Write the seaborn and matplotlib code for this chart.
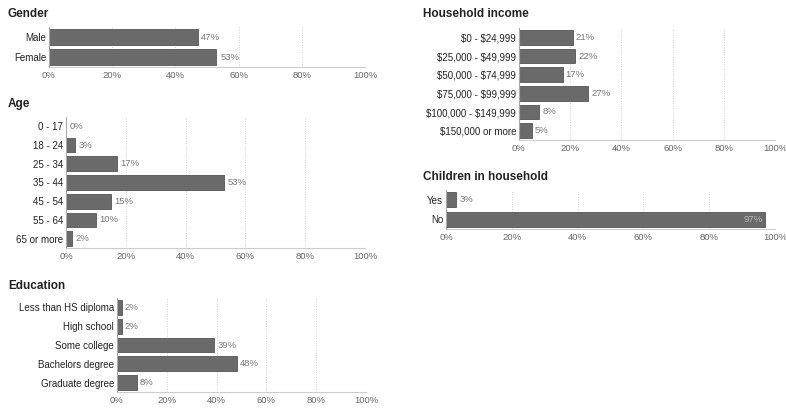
import pandas as pd
import matplotlib
matplotlib.use("Agg")
import matplotlib.pyplot as plt
import seaborn as sns

# Data (percent of respondents)
gender_labels = ["Male", "Female"]
gender_values = [47, 53]

age_labels = ["0 - 17", "18 - 24", "25 - 34", "35 - 44", "45 - 54", "55 - 64", "65 or more"]
age_values = [0, 3, 17, 53, 15, 10, 2]

edu_labels = ["Less than HS diploma", "High school", "Some college", "Bachelors degree", "Graduate degree"]
edu_values = [2, 2, 39, 48, 8]

income_labels = ["$0 - $24,999", "$25,000 - $49,999", "$50,000 - $74,999",
                 "$75,000 - $99,999", "$100,000 - $149,999", "$150,000 or more"]
income_values = [21, 22, 17, 27, 8, 5]

children_labels = ["Yes", "No"]
children_values = [3, 97]

tick_pct = [0, 20, 40, 60, 80, 100]

sns.set_style("white")
plt.rcParams["font.family"] = ["Liberation Sans", "DejaVu Sans"]
plt.rcParams["text.parse_math"] = False

W, H = 786, 408
fig = plt.figure(figsize=(W / 100, H / 100), dpi=100)


def panel(title, labels, values, left, right, top, bottom, title_x, title_y):
    ax = fig.add_axes([left / W, 1 - bottom / H, (right - left) / W, (bottom - top) / H])
    df = pd.DataFrame({"label": labels, "value": values})
    sns.barplot(data=df, x="value", y="label", orient="h", ax=ax,
                color="#6a6a6a", edgecolor="#555555", linewidth=0.6,
                width=0.78, saturation=1)
    ax.set_xlim(0, 100)
    ax.set_ylim(len(labels) - 0.5, -0.5)
    ax.set_xticks(tick_pct)
    ax.set_xticklabels([f"{t}%" for t in tick_pct], color="#666666", fontsize=6.8)
    ax.tick_params(axis="y", labelsize=7, colors="#222222", length=0, pad=2)
    ax.tick_params(axis="x", length=0, pad=3)
    ax.set_xlabel("")
    ax.set_ylabel("")
    for t in tick_pct[1:]:
        ax.axvline(t, color="#d0d0d0", lw=0.7, ls=(0, (1, 1.5)), zorder=0)
    for s in ["top", "right"]:
        ax.spines[s].set_visible(False)
    ax.spines["left"].set_color("#aaaaaa")
    ax.spines["bottom"].set_color("#cccccc")
    ax.spines["left"].set_linewidth(0.8)
    ax.spines["bottom"].set_linewidth(0.8)
    for i, v in enumerate(values):
        if v > 90:
            # no room on the right: the label sits over the bar end
            ax.text(v - 0.8, i, f"{v}%", va="center", ha="right", fontsize=6.8, color="#bbbbbb")
        else:
            ax.text(v + 1.2, i, f"{v}%", va="center", ha="left", fontsize=6.8, color="#777777")
    fig.text(title_x / W, 1 - title_y / H, title, fontsize=8.5, fontweight="bold",
             color="#222222", va="center", ha="left")
    return ax


panel("Gender", gender_labels, gender_values, 49, 365, 27, 67, 8, 14)
panel("Age", age_labels, age_values, 66, 365, 117, 248, 8, 104)
panel("Education", edu_labels, edu_values, 117, 366, 298, 392, 8, 286)
panel("Household income", income_labels, income_values, 519, 775, 28, 140, 423, 14)
panel("Children in household", children_labels, children_values, 446, 775, 190, 229, 423, 177)

fig.savefig("out.png", dpi=100, facecolor="white")
